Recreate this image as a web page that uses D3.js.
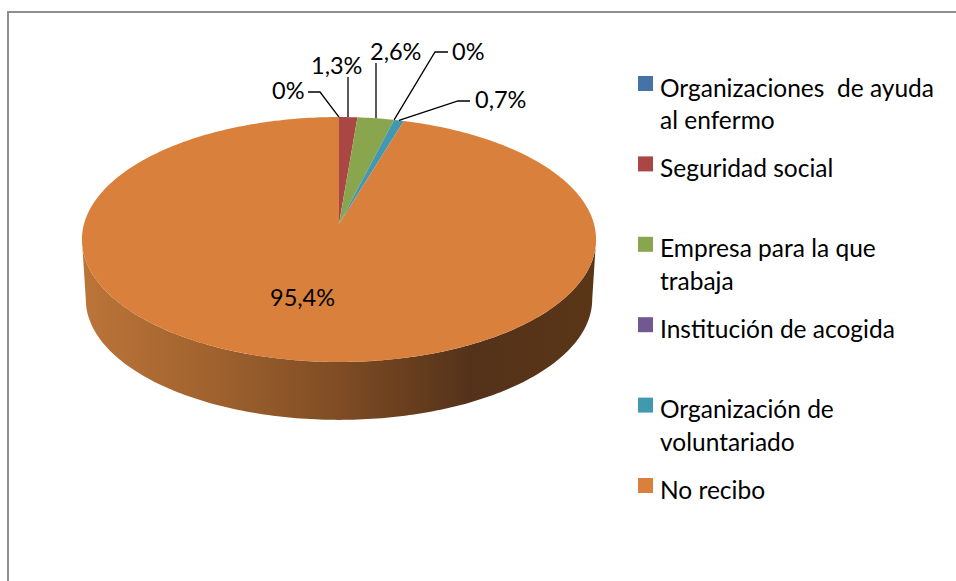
<!DOCTYPE html>
<html>
<head>
<meta charset="utf-8">
<script src="https://cdn.jsdelivr.net/npm/d3@7"></script>
<style>
  html, body { margin: 0; padding: 0; background: #fff; overflow: hidden; }
  text { font-family: Lato, "Noto Sans", sans-serif; fill: #000; white-space: pre; }
</style>
</head>
<body>
<div id="chart"></div>
<script>
// DATA
let CATEGORIES = ["Organizaciones de ayuda al enfermo", "Seguridad social", "Empresa para la que trabaja", "Institución de acogida", "Organización de voluntariado", "No recibo"]
let LEGEND_LINES = [["Organizaciones  de ayuda", "al enfermo"], ["Seguridad social"], ["Empresa para la que", "trabaja"], ["Institución de acogida"], ["Organización de", "voluntariado"], ["No recibo"]]
let VALUES = [0, 1.3, 2.6, 0, 0.7, 95.4]
let COLORS = ["#4572a7", "#aa4643", "#89a54e", "#71588f", "#4198af", "#d8803c"]

let width = 956, height = 581
let fontSize = 23.5, legendFontSize = 24.5

let svg = d3.select("#chart")
    .append("svg")
    .attr("width", width)
    .attr("height", height)

// chart frame, the right and bottom sides run off the picture
svg.append("rect")
    .attr("x", 8)
    .attr("y", 12)
    .attr("width", width + 20)
    .attr("height", height + 20)
    .attr("fill", "#fff")
    .attr("stroke", "#8f8f8f")
    .attr("stroke-width", 2)

// The pie is a disc seen in perspective: the far half is squeezed, so the
// apex sits above the middle of the ellipse.
let centerX = 339, centerY = 224
let spreadX = 255, spreadY = 120.5, perspective = 0.1265
let depth = 60, bottomScale = 0.985

function project(angle, radius, drop, scale) {
    let dx = radius * Math.sin(angle)
    let dy = radius * Math.cos(angle)
    let w = 1 + perspective * dy
    return [centerX + scale * spreadX * dx / w, centerY + drop - scale * spreadY * dy / w]
}

function rimPoint(angle) { return project(angle, 1, 0, 1) }

let pie = d3.pie().sort(null).value(function (d) { return d })
let arcs = pie(VALUES)
let line = d3.line()

function sampleAngles(a0, a1) {
    let n = Math.max(2, Math.ceil((a1 - a0) * 60))
    return d3.range(n + 1).map(function (i) { return a0 + (a1 - a0) * i / n })
}

// horizontal shading of the side wall
let gradient = svg.append("defs")
    .append("linearGradient")
    .attr("id", "sideShade")
    .attr("gradientUnits", "userSpaceOnUse")
    .attr("x1", 86).attr("x2", 592)
    .attr("y1", 0).attr("y2", 0)
gradient.selectAll("stop")
    .data([[0, "#bb7438"], [0.25, "#a0622e"], [0.5, "#7f4c24"], [0.76, "#54321a"], [1, "#5a3617"]])
    .enter()
    .append("stop")
    .attr("offset", function (d) { return d[0] })
    .attr("stop-color", function (d) { return d[1] })

// side wall: only the part of the rim facing the viewer
let wallStart = Math.acos(-perspective), wallEnd = 2 * Math.PI - wallStart
arcs.forEach(function (d) {
    let a0 = Math.max(d.startAngle, wallStart)
    let a1 = Math.min(d.endAngle, wallEnd)
    if (a1 <= a0) return
    let angles = sampleAngles(a0, a1)
    let top = angles.map(rimPoint)
    let bottom = angles.slice().reverse().map(function (a) { return project(a, 1, depth, bottomScale) })
    svg.append("path")
        .attr("d", line(top.concat(bottom)) + "Z")
        .attr("fill", "url(#sideShade)")
})

// top face
svg.selectAll(".slice")
    .data(arcs.filter(function (d) { return d.endAngle > d.startAngle }))
    .enter()
    .append("path")
    .attr("class", "slice")
    .attr("d", function (d) {
        let pts = sampleAngles(d.startAngle, d.endAngle).map(rimPoint)
        return line([[centerX, centerY]].concat(pts)) + "Z"
    })
    .attr("fill", function (d) { return COLORS[d.index] })

function pctLabel(v) { return String(v).replace(".", ",") + "%" }

// label placement per slice: elbow is the bend of the leader, end is where it stops
let labelPlaces = [
    { elbow: [320, 92], end: [308, 92], tx: 272, ty: 99 },
    { end: [348, 77], tx: 311, ty: 74 },
    { end: [376, 63], tx: 370, ty: 60 },
    { elbow: [435, 52], end: [448, 52], tx: 452, ty: 60 },
    { elbow: [458, 101], end: [470, 101], tx: 475, ty: 108 },
    { tx: 270, ty: 306 }
]

arcs.forEach(function (d, i) {
    let place = labelPlaces[i]
    if (place.end) {
        let mid = rimPoint((d.startAngle + d.endAngle) / 2)
        let pts = place.elbow ? [mid, place.elbow, place.end] : [[place.end[0], mid[1]], place.end]
        svg.append("path")
            .attr("d", line(pts))
            .attr("fill", "none")
            .attr("stroke", "#000")
            .attr("stroke-width", 1.3)
    }
    svg.append("text")
        .attr("x", place.tx)
        .attr("y", place.ty)
        .style("font-size", fontSize + "px")
        .text(pctLabel(d.value))
})

// legend
let legendY = d3.scalePoint().domain(CATEGORIES).range([76, 478])
let legendRow = svg.selectAll(".legend")
    .data(CATEGORIES)
    .enter()
    .append("g")
    .attr("class", "legend")
    .attr("transform", function (d) { return "translate(638," + legendY(d) + ")" })

legendRow.append("rect")
    .attr("width", 15)
    .attr("height", 15)
    .attr("fill", function (d, i) { return COLORS[i] })

legendRow.each(function (d, i) {
    d3.select(this).selectAll("text")
        .data(LEGEND_LINES[i])
        .enter()
        .append("text")
        .attr("x", 22)
        .attr("y", function (t, j) { return 20.5 + j * 32.5 })
        .style("font-size", legendFontSize + "px")
        .text(function (t) { return t })
})
</script>
</body>
</html>
